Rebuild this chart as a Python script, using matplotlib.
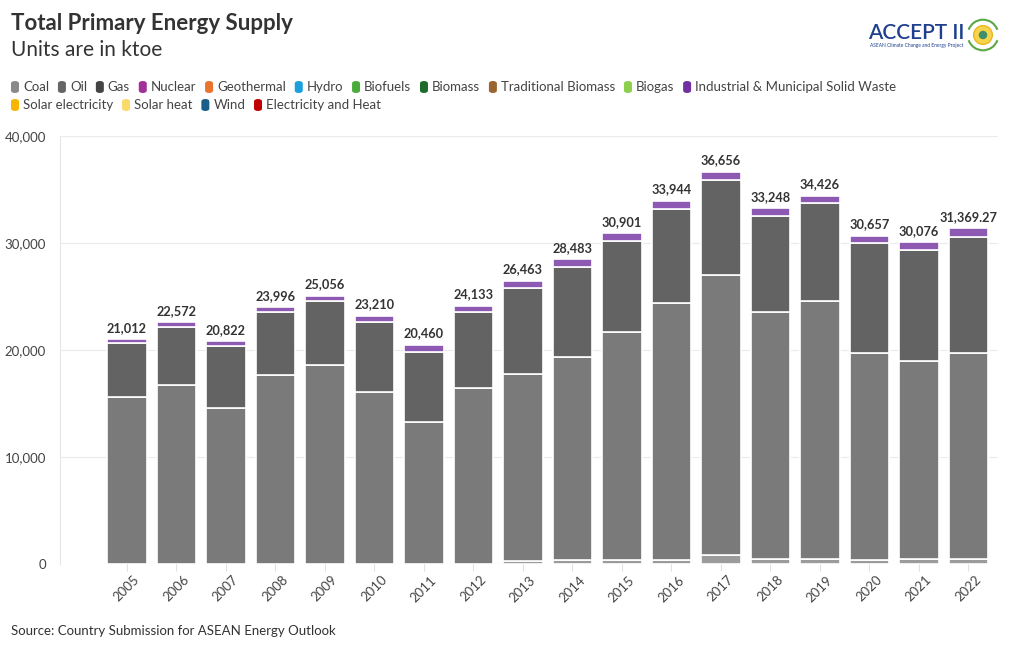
import matplotlib
matplotlib.use('Agg')
import matplotlib.pyplot as plt
from matplotlib.patches import FancyBboxPatch, Circle, Arc
import numpy as np

plt.rcParams['font.family'] = ['Lato', 'DejaVu Sans']

years = [str(y) for y in range(2005, 2023)]
totals = [21012, 22572, 20822, 23996, 25056, 23210, 20460, 24133, 26463,
          28483, 30901, 33944, 36656, 33248, 34426, 30657, 30076, 31369.27]
total_labels = ['21,012', '22,572', '20,822', '23,996', '25,056', '23,210', '20,460',
                '24,133', '26,463', '28,483', '30,901', '33,944', '36,656', '33,248',
                '34,426', '30,657', '30,076', '31,369.27']
coal = [0, 0, 0, 0, 0, 0, 0, 0, 300, 400, 400, 370, 840, 440, 440, 400, 440, 470]
oil = [15640, 16760, 14610, 17630, 18630, 16100, 13300, 16450, 17460,
       18980, 21310, 24050, 26170, 23140, 24140, 19350, 18530, 19280]
gas = [4990, 5420, 5790, 5920, 5980, 6540, 6540, 7070, 8010,
       8410, 8490, 8730, 8880, 8940, 9130, 10220, 10380, 10840]
# remainder on top is Industrial & Municipal Solid Waste
waste = [t - c - o - g for t, c, o, g in zip(totals, coal, oil, gas)]

legend_names = ['Coal', 'Oil', 'Gas', 'Nuclear', 'Geothermal', 'Hydro', 'Biofuels',
                'Biomass', 'Traditional Biomass', 'Biogas',
                'Industrial & Municipal Solid Waste',
                'Solar electricity', 'Solar heat', 'Wind', 'Electricity and Heat']
legend_colors = ['#8a8a8a', '#666666', '#444444', '#a1309a', '#e8742e', '#1aa0dd',
                 '#4aab3c', '#1e6b2c', '#9a6530', '#8ccf4d', '#7030a0',
                 '#f7b500', '#fbd96a', '#1a5f8a', '#c00000']

bar_colors = {'coal': '#9b9b9b', 'oil': '#7a7a7a', 'gas': '#636363', 'waste': '#8d59b3'}

W, H = 1020, 650
fig = plt.figure(figsize=(W / 100, H / 100), dpi=100)
ax = fig.add_axes([60 / W, 1 - 564 / H, (998 - 60) / W, (564 - 136) / H])

x = np.arange(len(years))
bw = 0.8
bottom = np.zeros(len(years))
for key, vals in [('coal', coal), ('oil', oil), ('gas', gas), ('waste', waste)]:
    ax.bar(x, vals, bw, bottom=bottom, color=bar_colors[key], edgecolor='white',
           linewidth=1.2, zorder=3)
    bottom += np.array(vals)

for xi, t, lab in zip(x, totals, total_labels):
    ax.annotate(lab, (xi, t), xytext=(0, 4), textcoords='offset points', ha='center',
                va='bottom', fontsize=9.2, fontweight='bold', color='#333333', zorder=4)

ax.set_xlim(-1.35, 17.6)
ax.set_ylim(0, 40000)
ax.set_yticks([0, 10000, 20000, 30000, 40000])
ax.set_yticklabels(['0', '10,000', '20,000', '30,000', '40,000'], fontsize=9.5, color='#444444')
ax.set_xticks(x)
ax.set_xticklabels(years, rotation=45, fontsize=9.5, color='#444444', ha='center')
ax.tick_params(axis='y', length=0, pad=10)
ax.tick_params(axis='x', length=5, color='#e0e0e0', pad=2)
ax.grid(axis='y', color='#ebebeb', linewidth=0.8, zorder=0)
for s in ['top', 'right', 'bottom']:
    ax.spines[s].set_visible(False)
ax.spines['left'].set_color('#e6e6e6')
ax.spines['left'].set_linewidth(0.8)

# titles
fig.text(11 / W, 1 - 24 / H, 'Total Primary Energy Supply', fontsize=16, fontweight='bold',
         color='#333333', va='center')
fig.text(11 / W, 1 - 50 / H, 'Units are in ktoe', fontsize=15, color='#333333', va='center')
fig.text(11 / W, 1 - 631 / H, 'Source: Country Submission for ASEAN Energy Outlook',
         fontsize=9.5, color='#333333', va='center')

# legend drawn by hand, two rows
fig.canvas.draw()
renderer = fig.canvas.get_renderer()
rows = [legend_names[:11], legend_names[11:]]
row_cols = [legend_colors[:11], legend_colors[11:]]
for r, (names, cols) in enumerate(zip(rows, row_cols)):
    yc = 87 + r * 18
    xp = 11
    for name, col in zip(names, cols):
        fig.patches.append(FancyBboxPatch((xp / W, 1 - (yc + 6) / H), 8 / W, 12 / H,
                                          boxstyle='round,pad=0,rounding_size=0.004',
                                          transform=fig.transFigure, facecolor=col,
                                          edgecolor='none'))
        t = fig.text((xp + 12) / W, 1 - yc / H, name, fontsize=9.5, color='#444444',
                     va='center')
        wpx = t.get_window_extent(renderer).width
        xp += 12 + wpx + 8.8

# logo
fig.text(868 / W, 1 - 33 / H, 'ACCEPT II', fontsize=15, fontweight='semibold',
         color='#1f3f8f', va='center')
fig.text(870 / W, 1 - 46 / H, 'ASEAN Climate Change and Energy Project', fontsize=3.5,
         color='#1f3f8f', va='center')
lax = fig.add_axes([966 / W, 1 - 52 / H, 34 / W, 34 / H])
lax.set_xlim(-1, 1)
lax.set_ylim(-1, 1)
lax.set_aspect('equal')
lax.axis('off')
lax.add_patch(Circle((0, 0), 0.55, facecolor='#f7d44c', edgecolor='#e8b820', linewidth=1))
lax.add_patch(Circle((0, 0), 0.25, facecolor='#3e8f6a', edgecolor='none'))
lax.add_patch(Arc((0, 0), 1.8, 1.8, theta1=20, theta2=160, color='#5aa845', linewidth=1.5))
lax.add_patch(Arc((0, 0), 1.8, 1.8, theta1=200, theta2=340, color='#5aa845', linewidth=1.5))

fig.savefig('out.png', dpi=100, facecolor='white')
